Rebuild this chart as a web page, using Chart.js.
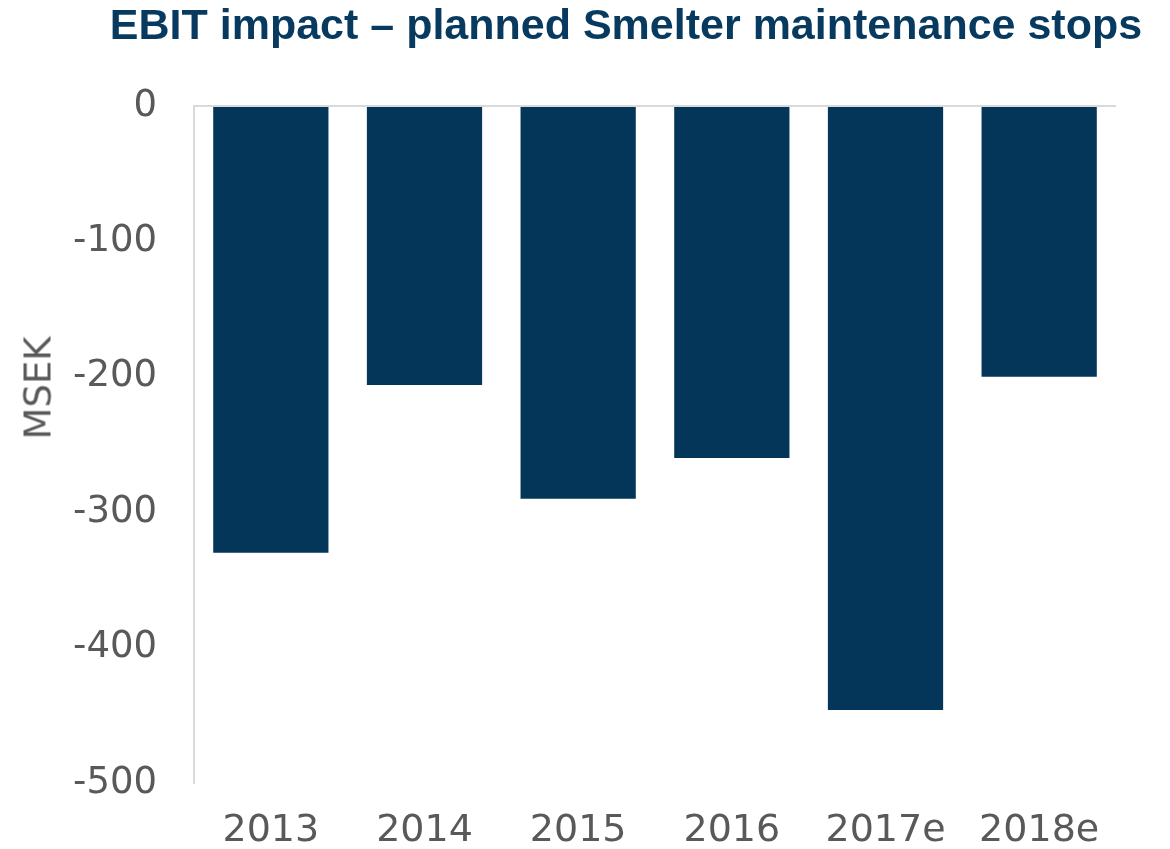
<!DOCTYPE html>
<html>
<head>
<meta charset="utf-8">
<script src="https://cdn.jsdelivr.net/npm/chart.js@4"></script>
<style>
  html, body { margin: 0; padding: 0; background: #ffffff; }
  #wrap { position: relative; width: 1170px; height: 849px; }
  #title {
    position: absolute; left: 626px; top: 3px; transform: translateX(-50%);
    font-family: "Liberation Sans", Arial, sans-serif; font-weight: bold;
    font-size: 43px; line-height: 43px; color: #073a5e; white-space: nowrap;
  }
  #ytitle {
    position: absolute; left: 38px; top: 388px; transform: translate(-50%, -50%) rotate(-90deg);
    font-family: "DejaVu Sans", sans-serif; font-size: 37px; line-height: 37px; color: #595959; white-space: nowrap;
  }
  canvas { position: absolute; left: 0; top: 0; }
</style>
</head>
<body>
<div id="wrap">
  <canvas id="c" width="1170" height="849"></canvas>
  <div id="title">EBIT impact – planned Smelter maintenance stops</div>
  <div id="ytitle">MSEK</div>
</div>
<script>
const categories = ["2013", "2014", "2015", "2016", "2017e", "2018e"];
const ebitImpact = [-330, -206, -290, -260, -446, -200];
const yTicks = [0, -100, -200, -300, -400, -500];

new Chart(document.getElementById('c'), {
  type: 'bar',
  data: {
    labels: categories,
    datasets: [{
      data: ebitImpact,
      backgroundColor: '#033659',
      borderWidth: 0,
      barPercentage: 0.75,
      categoryPercentage: 1.0
    }]
  },
  options: {
    responsive: false,
    animation: false,
    layout: { padding: { top: 106, right: 54, bottom: 0, left: 0 } },
    plugins: { legend: { display: false }, tooltip: { enabled: false }, title: { display: false } },
    scales: {
      x: {
        afterFit: (s) => { s.height = 66; },
        grid: { display: false, drawTicks: false },
        border: { display: false },
        ticks: { color: '#595959', font: { family: 'DejaVu Sans', size: 38 }, padding: 25 }
      },
      y: {
        min: -500, max: 0,
        afterBuildTicks: (s) => { s.ticks = yTicks.map(v => ({ value: v })); },
        afterFit: (s) => { s.width = 194; },
        grid: {
          drawTicks: false,
          color: (ctx) => ctx.tick && ctx.tick.value === 0 ? '#d9d9d9' : 'rgba(0,0,0,0)',
          lineWidth: 2
        },
        border: { display: true, color: '#d9d9d9', width: 2 },
        ticks: { color: '#595959', font: { family: 'DejaVu Sans', size: 37 }, padding: 37 }
      }
    }
  }
});
</script>
</body>
</html>
